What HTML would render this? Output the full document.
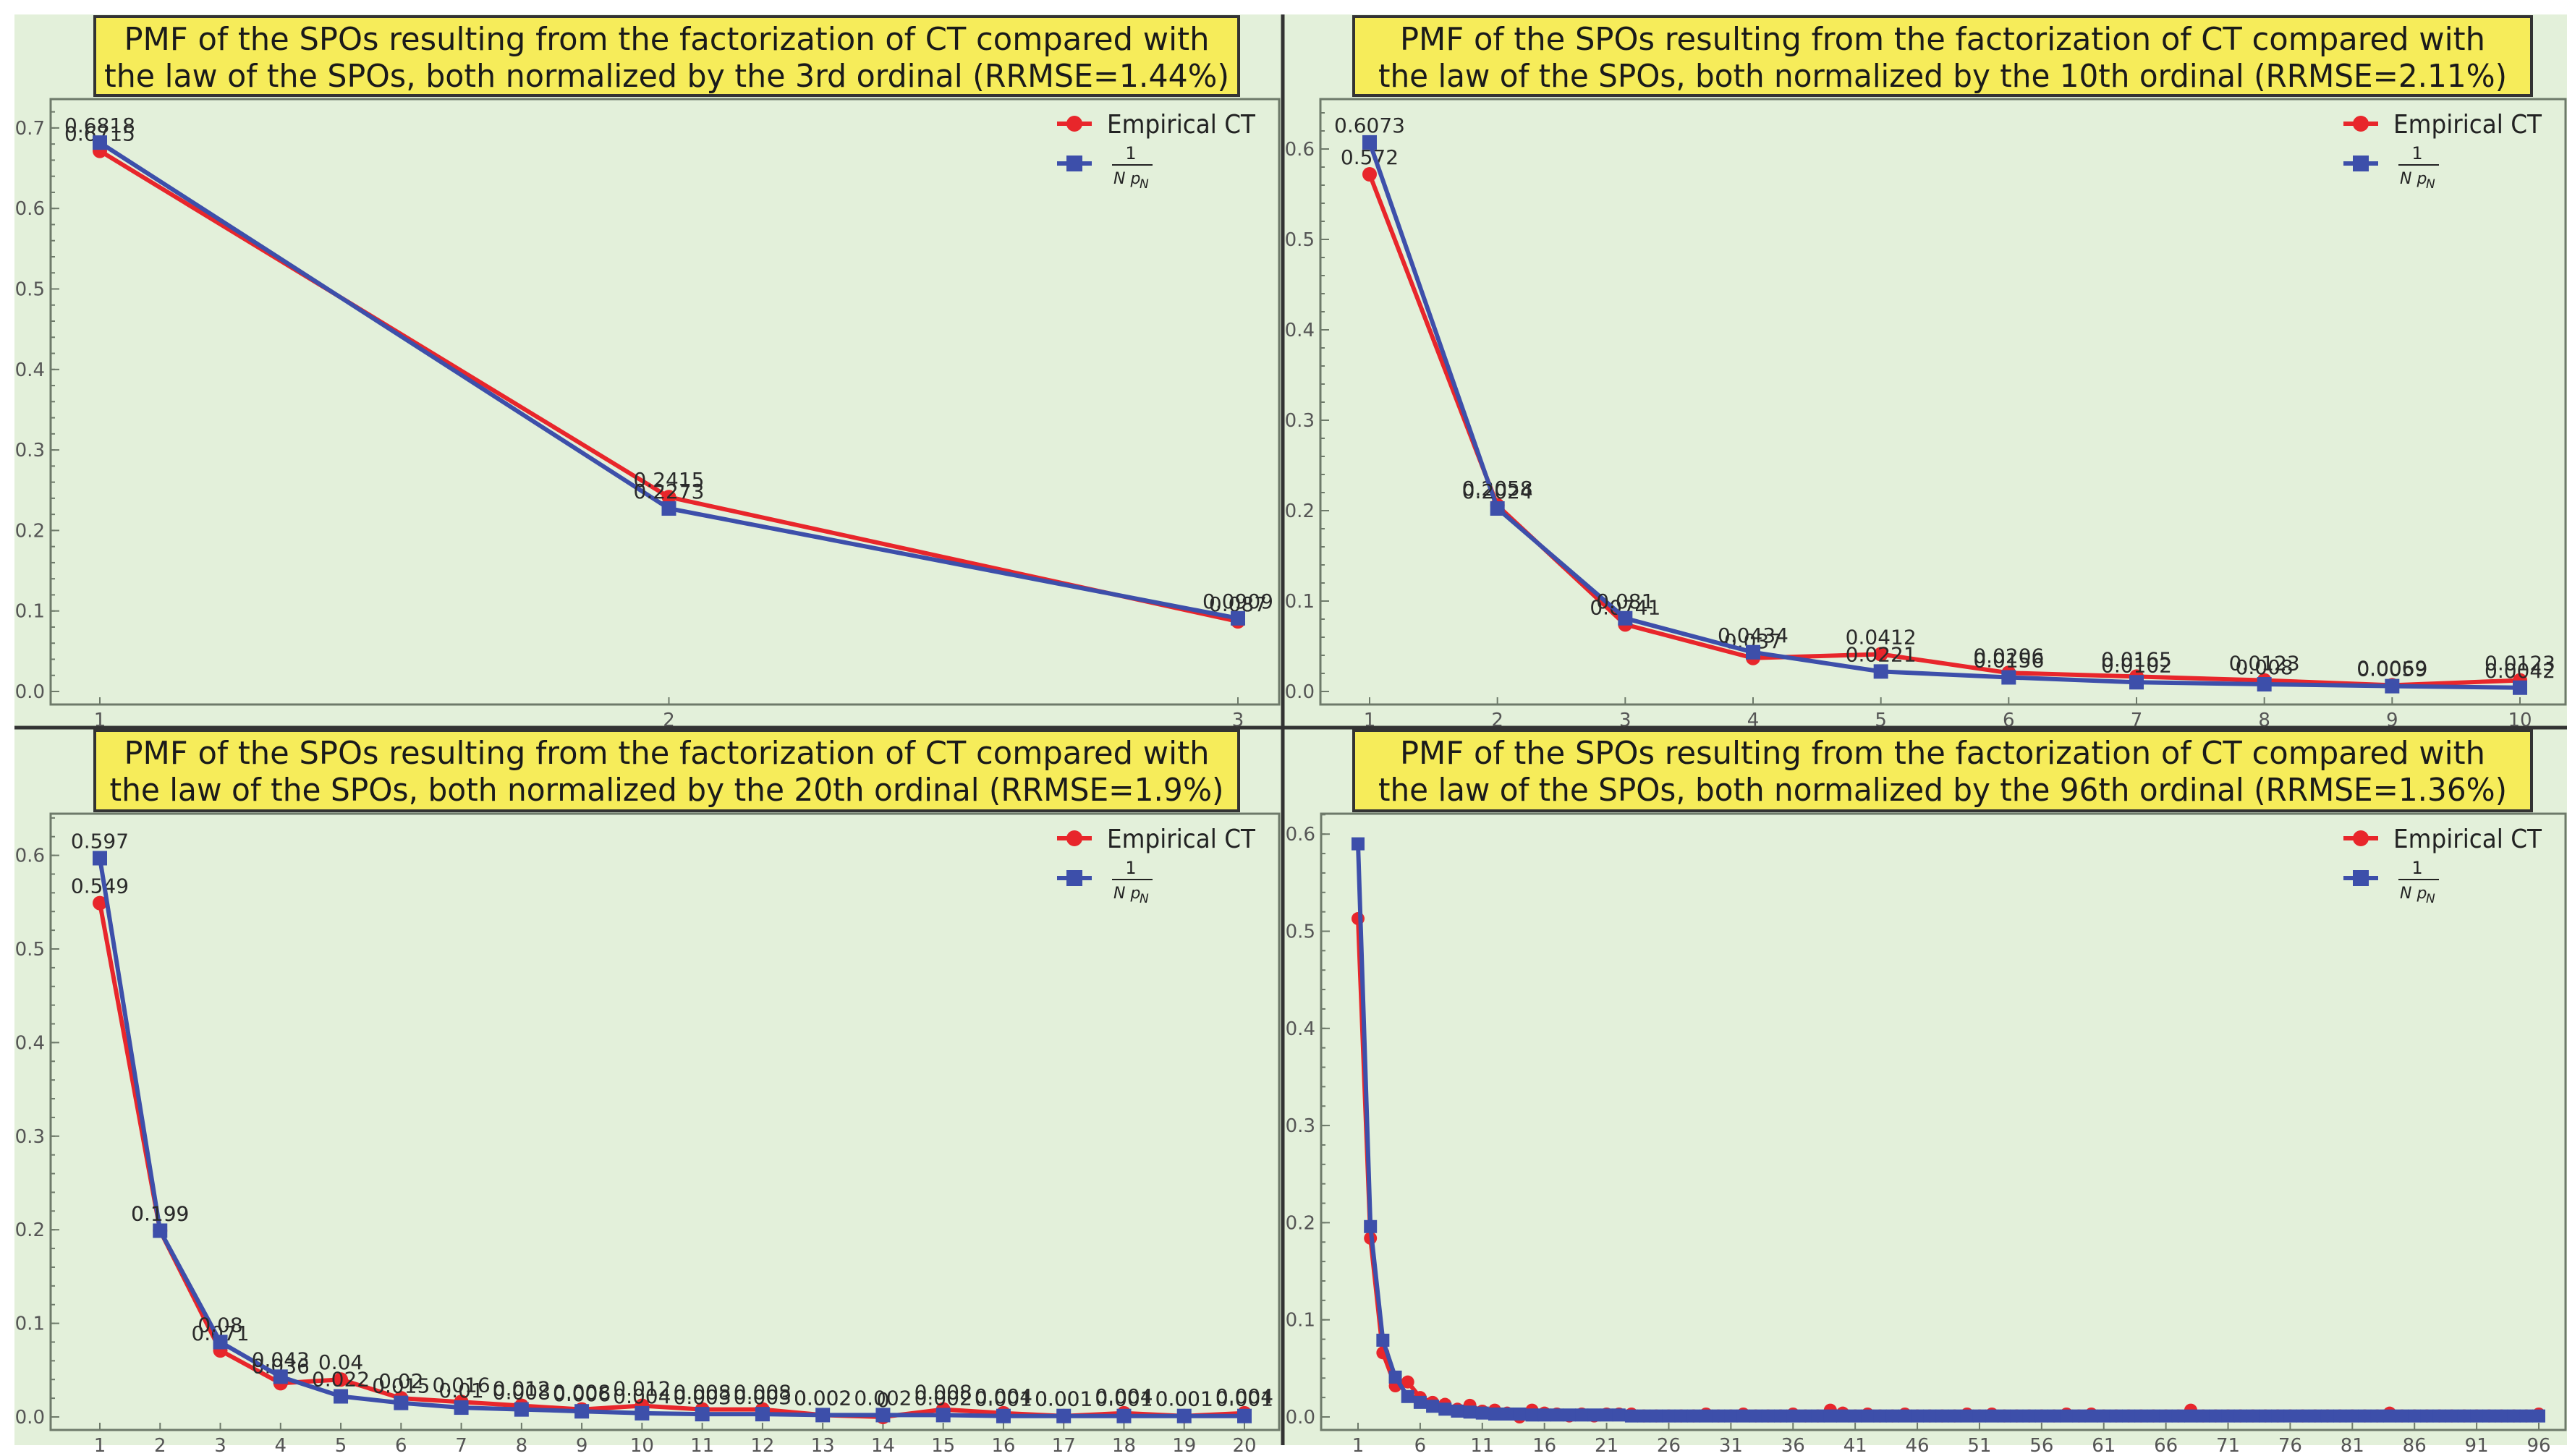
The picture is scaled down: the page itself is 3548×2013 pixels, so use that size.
<!DOCTYPE html>
<html><head><meta charset="utf-8">
<style>
html,body{margin:0;padding:0;background:#fff;}
svg{display:block;}
text{font-family:"DejaVu Sans","Liberation Sans",sans-serif;}
</style></head>
<body>
<svg id="root" width="3548" height="2013" viewBox="0 0 3548 2013" xmlns="http://www.w3.org/2000/svg">
<rect x="0" y="0" width="3548" height="2013" fill="#ffffff"/>
<rect x="20" y="20" width="3528" height="1978" fill="#e3f0da"/>
<line x1="20" y1="1006" x2="3548" y2="1006" stroke="#333" stroke-width="5"/>
<line x1="1773" y1="20" x2="1773" y2="1998" stroke="#333" stroke-width="5"/>
</svg>
<script>
// ---- data: 3rd ordinal ----
const cats3 = [1,2,3];
const red3 = [0.6715,0.2415,0.0870];
const blue3 = [0.6818,0.2273,0.0909];
const yTicks3 = [0,0.1,0.2,0.3,0.4,0.5,0.6,0.7];
// ---- data: 10th ordinal ----
const cats10 = [1,2,3,4,5,6,7,8,9,10];
const red10 = [0.572,0.2058,0.0741,0.037,0.0412,0.0206,0.0165,0.0123,0.0069,0.0123];
const blue10 = [0.6073,0.2024,0.081,0.0434,0.0221,0.0156,0.0102,0.008,0.0059,0.0042];
const yTicks10 = [0,0.1,0.2,0.3,0.4,0.5,0.6];
// ---- data: 20th ordinal ----
const cats20 = [1,2,3,4,5,6,7,8,9,10,11,12,13,14,15,16,17,18,19,20];
const red20 = [0.549,0.199,0.071,0.036,0.04,0.02,0.016,0.012,0.008,0.012,0.008,0.008,0.002,0.0,0.008,0.004,0.001,0.004,0.001,0.004];
const blue20 = [0.597,0.199,0.08,0.043,0.022,0.015,0.01,0.008,0.006,0.004,0.003,0.003,0.002,0.002,0.002,0.001,0.001,0.001,0.001,0.001];
const yTicks20 = [0,0.1,0.2,0.3,0.4,0.5,0.6];
// ---- data: 96th ordinal ----
const cats96 = [];
for (let i=1;i<=96;i++) cats96.push(i);
const red96 = [0.513,0.184,0.066,0.032,0.036,0.02,0.015,0.013,0.008,0.012,0.006,0.007,0.004,0.0,0.007,0.004,0.003,0.001,0.003,0.001,0.003,0.003,0.003,0.001,0.001,0.001,0.001,0.001,0.003,0.001,0.001,0.003,0.001,0.001,0.001,0.003,0.001,0.001,0.007,0.004,0.001,0.003,0.001,0.001,0.003,0.001,0.001,0.001,0.001,0.003,0.001,0.003,0.001,0.001,0.001,0.001,0.001,0.003,0.001,0.003,0.001,0.001,0.001,0.001,0.001,0.001,0.001,0.007,0.001,0.001,0.001,0.001,0.001,0.001,0.001,0.001,0.001,0.001,0.001,0.001,0.001,0.001,0.001,0.004,0.001,0.001,0.001,0.001,0.001,0.001,0.001,0.001,0.001,0.001,0.001,0.003];
const blue96 = [0.59,0.196,0.079,0.041,0.021,0.015,0.011,0.008,0.006,0.005,0.004,0.003,0.003,0.003,0.002,0.002,0.002,0.002,0.002,0.002,0.002,0.002,0.001,0.001,0.001,0.001,0.001,0.001,0.001,0.001,0.001,0.001,0.001,0.001,0.001,0.001,0.001,0.001,0.001,0.001,0.001,0.001,0.001,0.001,0.001,0.001,0.001,0.001,0.001,0.001,0.001,0.001,0.001,0.001,0.001,0.001,0.001,0.001,0.001,0.001,0.001,0.001,0.001,0.001,0.001,0.001,0.001,0.001,0.001,0.001,0.001,0.001,0.001,0.001,0.001,0.001,0.001,0.001,0.001,0.001,0.001,0.001,0.001,0.001,0.001,0.001,0.001,0.001,0.001,0.001,0.001,0.001,0.001,0.001,0.001,0.001];
const xTicks96 = [1,6,11,16,21,26,31,36,41,46,51,56,61,66,71,76,81,86,91,96];

const NS = 'http://www.w3.org/2000/svg';
const root = document.getElementById('root');
function mk(tag, attrs, parent){ const e=document.createElementNS(NS,tag); for(const k in attrs) e.setAttribute(k,attrs[k]); (parent||root).appendChild(e); return e; }

const RED='#e8262b', BLUE='#3d4faa';

function panel(cfg){
  const g = mk('g',{});
  
  
  const L=cfg.L,R=cfg.R,T=cfg.T,B=cfg.B;
  const xS = v => cfg.x0 + (v - cfg.cats[0])/(cfg.cats[cfg.cats.length-1]-cfg.cats[0])*(cfg.x1-cfg.x0);
  const yS = v => cfg.y0 - v/0.1*cfg.perTenth;
  // frame
  const fr = mk('rect',{x:L,y:T,width:R-L,height:B-T,fill:'none',stroke:'#6e7a6a','stroke-width':3},g);
  
  
  // title
  const tb = mk('rect',{x:cfg.tx0,y:cfg.ty0,width:cfg.tx1-cfg.tx0,height:cfg.ty1-cfg.ty0,fill:'#f6ec5a',stroke:'#333','stroke-width':4},g);
  
  
  const cx=(cfg.tx0+cfg.tx1)/2;
  const t1 = mk('text',{x:cx,y:cfg.ty0+46,'text-anchor':'middle','font-size':44,fill:'#1a1a1a',textLength:1500,lengthAdjust:'spacingAndGlyphs'},g);
  t1.textContent='PMF of the SPOs resulting from the factorization of CT compared with';
  
  
  const t2 = mk('text',{x:cx,y:cfg.ty0+97,'text-anchor':'middle','font-size':44,fill:'#1a1a1a',textLength:cfg.t2len,lengthAdjust:'spacingAndGlyphs'},g);
  t2.textContent='the law of the SPOs, both normalized by the '+cfg.ord+' ordinal (RRMSE='+cfg.rr+')';
  
  
  // y ticks
  cfg.yt.forEach(v=>{
    const y=yS(v);
    mk('line',{x1:L,y1:y,x2:L+12,y2:y,stroke:'#6e7a6a','stroke-width':2},g);
    const t=mk('text',{x:L-8,y:y+9,'text-anchor':'end','font-size':26,fill:'#555'},g);
    t.textContent=v.toFixed(1);
    
    
  });
  for(let v=0.02; v<cfg.yt[cfg.yt.length-1]+0.05; v+=0.02){
    const y=yS(v); if(y<T) break;
    mk('line',{x1:L,y1:y,x2:L+6,y2:y,stroke:'#6e7a6a','stroke-width':2},g);
  }
  // x ticks
  cfg.xt.forEach(v=>{
    const x=xS(v);
    mk('line',{x1:x,y1:B,x2:x,y2:B-10,stroke:'#6e7a6a','stroke-width':2},g);
    const t=mk('text',{x:x,y:B+30,'text-anchor':'middle','font-size':26,fill:'#555'},g);
    t.textContent=String(v);
    
    
  });
  // series
  [[cfg.red,RED,'empirical-ct'],[cfg.blue,BLUE,'law-1-over-npn']].forEach(([vals,col,nm],si)=>{
    const pts = vals.map((v,i)=>xS(cfg.cats[i]).toFixed(1)+','+yS(v).toFixed(1)).join(' ');
    const pl=mk('polyline',{points:pts,fill:'none',stroke:col,'stroke-width':6,'stroke-linejoin':'round'},g);
    
    
    vals.forEach((v,i)=>{
      const x=xS(cfg.cats[i]), y=yS(v);
      let m;
      if(si===0) m=mk('circle',{cx:x,cy:y,r:cfg.mr,fill:col},g);
      else m=mk('rect',{x:x-cfg.mr,y:y-cfg.mr,width:2*cfg.mr,height:2*cfg.mr,fill:col},g);
      
      
      if(cfg.labels){
        const t=mk('text',{x:x,y:y-14,'text-anchor':'middle','font-size':28,fill:'#2a2a2a'},g);
        t.textContent=String(v);
        
        
      }
    });
  });
  // legend
  const lx=R-283, ly1=T+34, ly2=T+89;
  const lg=mk('g',{},g);
  
  
  mk('line',{x1:lx-24,y1:ly1,x2:lx+24,y2:ly1,stroke:RED,'stroke-width':6},lg);
  mk('circle',{cx:lx,cy:ly1,r:11,fill:RED},lg);
  const lt=mk('text',{x:lx+45,y:ly1+13,'font-size':36,fill:'#222',textLength:205,lengthAdjust:'spacingAndGlyphs'},lg);
  lt.textContent='Empirical CT';
  
  
  mk('line',{x1:lx-24,y1:ly2,x2:lx+24,y2:ly2,stroke:BLUE,'stroke-width':6},lg);
  mk('rect',{x:lx-11,y:ly2-11,width:22,height:22,fill:BLUE},lg);
  const f1=mk('text',{x:lx+78,y:ly2-6,'text-anchor':'middle','font-size':24,fill:'#222'},lg);
  f1.textContent='1';
  
  
  mk('line',{x1:lx+52,y1:ly2+2,x2:lx+108,y2:ly2+2,stroke:'#222','stroke-width':2},lg);
  const f2=mk('text',{x:lx+54,y:ly2+28,'font-size':22,'font-style':'italic',fill:'#222'},lg);
  f2.textContent='N p';
  const f3=mk('text',{x:lx+90,y:ly2+34,'font-size':17,'font-style':'italic',fill:'#222'},lg);
  f3.textContent='N';
}

panel({name:'panel-3rd-ordinal',L:70,R:1768,T:137,B:974,x0:138,x1:1711,y0:956,perTenth:111.3,cats:cats3,red:red3,blue:blue3,yt:yTicks3,xt:cats3,labels:true,mr:10,
  tx0:131,tx1:1712,ty0:23,ty1:132,ord:'3rd',rr:'1.44%',t2len:1555});
panel({name:'panel-10th-ordinal',L:1825,R:3546,T:137,B:974,x0:1893,x1:3483,y0:956,perTenth:125,cats:cats10,red:red10,blue:blue10,yt:yTicks10,xt:cats10,labels:true,mr:10,
  tx0:1871,tx1:3499,ty0:23,ty1:132,ord:'10th',rr:'2.11%',t2len:1560});
panel({name:'panel-20th-ordinal',L:70,R:1768,T:1125,B:1977,x0:138,x1:1720,y0:1959,perTenth:129.4,cats:cats20,red:red20,blue:blue20,yt:yTicks20,xt:cats20,labels:true,mr:10,
  tx0:131,tx1:1712,ty0:1010,ty1:1121,ord:'20th',rr:'1.9%',t2len:1540});
panel({name:'panel-96th-ordinal',L:1826,R:3546,T:1125,B:1977,x0:1877,x1:3509,y0:1959,perTenth:134.3,cats:cats96,red:red96,blue:blue96,yt:yTicks20,xt:xTicks96,labels:false,mr:9,
  tx0:1871,tx1:3499,ty0:1010,ty1:1121,ord:'96th',rr:'1.36%',t2len:1560});
</script>
</body></html>
